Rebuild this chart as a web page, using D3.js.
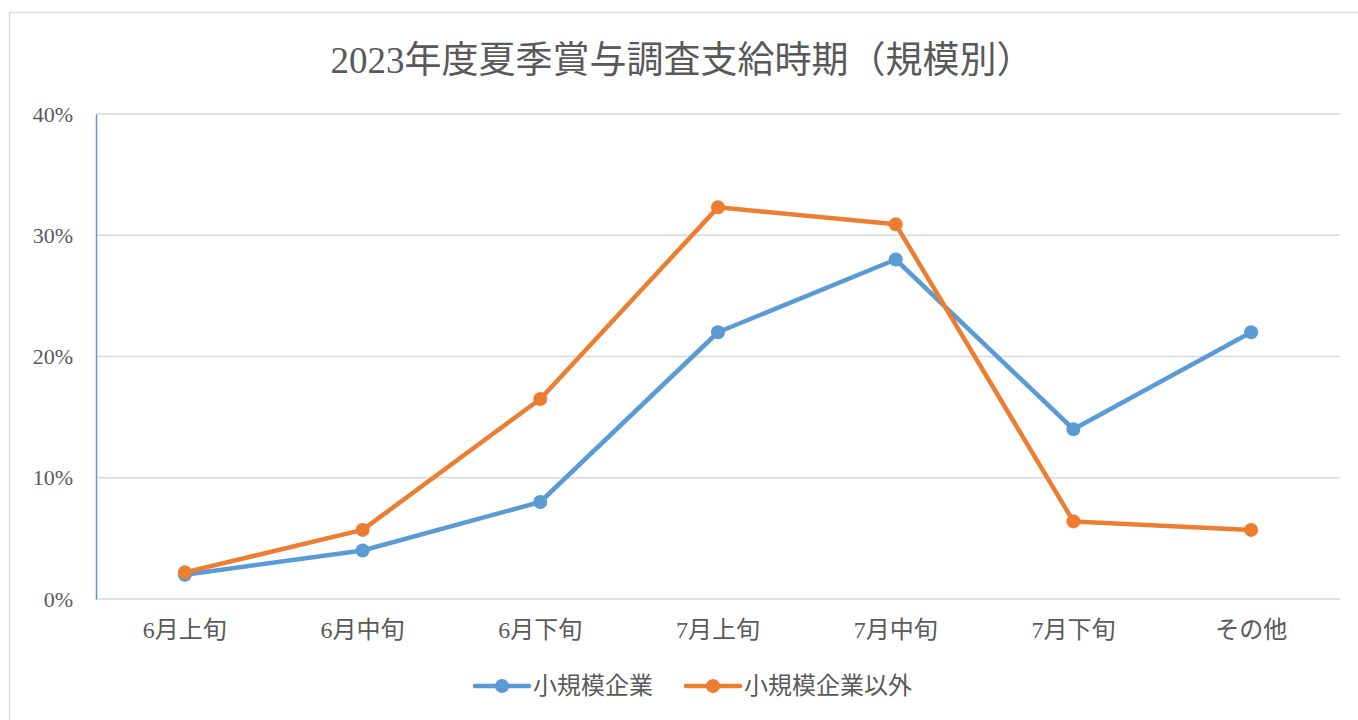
<!DOCTYPE html>
<html>
<head>
<meta charset="UTF-8">
<title>2023年度夏季賞与調査支給時期（規模別）</title>
<script src="https://d3js.org/d3.v7.min.js"></script>
<style>
    body { margin: 0; background: #fff; }
    text { font-family: "Liberation Serif", "Noto Sans CJK JP", serif; fill: #595959; }
    .grid line { stroke: #d9d9d9; stroke-width: 1.5px; }
    .line { fill: none; stroke-width: 4.5px; stroke-linejoin: round; stroke-linecap: round; }
</style>
</head>
<body>
<div id="chart"></div>
<script>
    // データ
    const categories = ["6月上旬", "6月中旬", "6月下旬", "7月上旬", "7月中旬", "7月下旬", "その他"];
    const smallValues = [2.0, 4.0, 8.0, 22.0, 28.0, 14.0, 22.0];
    const otherValues = [2.2, 5.7, 16.5, 32.3, 30.9, 6.4, 5.7];
    const yTicks = [0, 10, 20, 30, 40];
    const seriesNames = ["小規模企業", "小規模企業以外"];
    const colors = ["#5b9bd5", "#ed7d31"];

    const width = 1358, height = 720;
    const margin = {top: 114, right: 20, bottom: 121, left: 96};

    const svg = d3.select("#chart").append("svg")
        .attr("width", width)
        .attr("height", height);

    // 外枠
    svg.append("rect")
        .attr("x", 9.5).attr("y", 12.5)
        .attr("width", width).attr("height", height)
        .attr("fill", "none")
        .attr("stroke", "#d9d9d9")
        .attr("stroke-width", 1.5);

    svg.append("text")
        .attr("x", 682).attr("y", 73)
        .attr("text-anchor", "middle")
        .style("font-size", "37px")
        .text("2023年度夏季賞与調査支給時期（規模別）");

    const x = d3.scaleBand()
        .domain(categories)
        .range([margin.left, 1340]);

    const y = d3.scaleLinear()
        .domain([0, 40])
        .range([height - margin.bottom, margin.top]);

    // グリッド
    svg.append("g")
        .attr("class", "grid")
        .selectAll("line")
        .data(yTicks)
        .join("line")
        .attr("x1", margin.left).attr("x2", 1340)
        .attr("y1", d => y(d)).attr("y2", d => y(d));

    // Y軸
    const yAxis = svg.append("g")
        .attr("transform", `translate(${margin.left},0)`)
        .call(d3.axisLeft(y).tickValues(yTicks).tickSize(0).tickPadding(23).tickFormat(d => d + "%"));
    yAxis.select(".domain").attr("stroke", "#5b9bd5").attr("stroke-width", 1.5);
    yAxis.selectAll("text").style("font-size", "22px").attr("fill", "#595959");

    // X軸ラベル
    const xAxis = svg.append("g")
        .attr("transform", `translate(0,${y(0)})`)
        .call(d3.axisBottom(x).tickSize(0).tickPadding(22));
    xAxis.select(".domain").remove();
    xAxis.selectAll("text").style("font-size", "24px").attr("fill", "#595959");

    const series = [smallValues, otherValues];
    const line = d3.line()
        .x((d, i) => x(categories[i]) + x.bandwidth() / 2)
        .y(d => y(d));

    series.forEach((vals, si) => {
        svg.append("path")
            .datum(vals)
            .attr("class", "line")
            .attr("stroke", colors[si])
            .attr("d", line);
        svg.append("g")
            .selectAll("circle")
            .data(vals)
            .join("circle")
            .attr("cx", (d, i) => x(categories[i]) + x.bandwidth() / 2)
            .attr("cy", d => y(d))
            .attr("r", 7)
            .attr("fill", colors[si]);
    });

    // 凡例
    const legendX = [475, 686];
    const legend = svg.append("g").selectAll("g")
        .data(seriesNames)
        .join("g")
        .attr("transform", (d, i) => `translate(${legendX[i]},686)`);
    legend.append("line")
        .attr("x1", 0).attr("x2", 54)
        .attr("stroke", (d, i) => colors[i])
        .attr("stroke-width", 4.5)
        .attr("stroke-linecap", "round");
    legend.append("circle")
        .attr("cx", 27).attr("r", 7)
        .attr("fill", (d, i) => colors[i]);
    legend.append("text")
        .attr("x", 58).attr("dy", "0.35em")
        .style("font-size", "24px")
        .text(d => d);
</script>
</body>
</html>
